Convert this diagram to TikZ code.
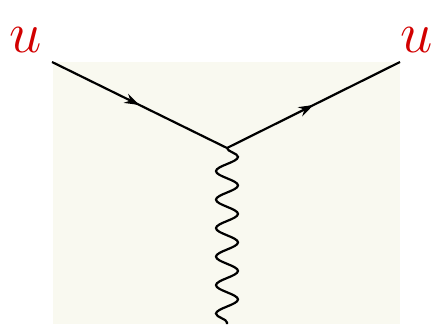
\RequirePackage{fix-cm}
\documentclass[tikz,border=0pt]{standalone}
\usetikzlibrary{decorations.pathmorphing,decorations.markings,arrows.meta}
\definecolor{bgbeige}{RGB}{249,249,240}
\definecolor{ured}{RGB}{210,0,0}
\begin{document}
\begin{tikzpicture}[x=1pt,y=-1pt,
  fermion/.style={line width=2.2pt,postaction={decorate},
    decoration={markings,mark=at position 0.5 with {\arrow{Stealth[length=15pt,width=10pt]}}}},
  photon/.style={line width=2.2pt,decorate,decoration={snake,segment length=28.5pt,amplitude=11pt}},
  lbl/.style={text=ured,font=\fontsize{58}{60}\selectfont,inner sep=0pt}]
\useasboundingbox (0,0) rectangle (433,324);
\fill[bgbeige] (53,62) rectangle (400,324);
\coordinate (a) at (52,62);
\coordinate (v) at (227,148);
\coordinate (b) at (400,62);
\coordinate (c) at (227,324);
\draw[fermion] (a) -- (v);
\draw[fermion] (v) -- (b);
\draw[photon] (v) -- (c);
\node[lbl] (u1) at (26,40) {$u$};
\node[lbl] (u2) at (417,40) {$u$};
\end{tikzpicture}
\end{document}
